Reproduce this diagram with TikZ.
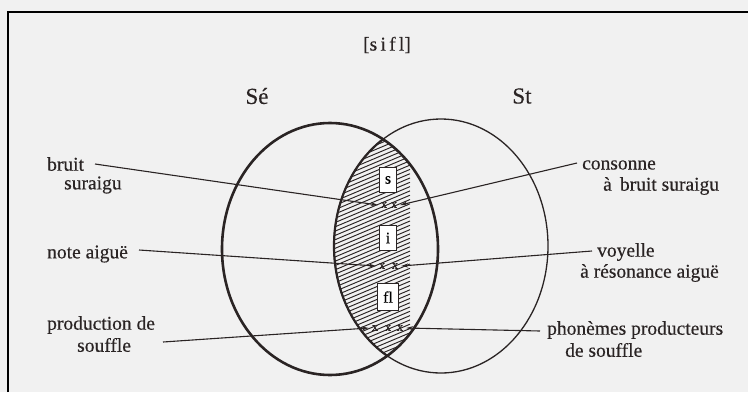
\documentclass[tikz,border=0pt]{standalone}
\usepackage{fontspec}
\setmainfont[FakeBold=0.35]{Liberation Serif}
\usetikzlibrary{arrows.meta}
\definecolor{ink}{HTML}{2A2424}
\definecolor{bg}{HTML}{F1F1F1}
\tikzset{
  lbl/.style={inner sep=0pt, text=ink, font=\fontsize{19.5}{22}\selectfont},
  big/.style={inner sep=0pt, text=ink, font=\fontsize{23}{26}\selectfont},
  conn/.style={draw=ink, line width=1.1pt},
  arr/.style={conn, -{Stealth[length=7pt,width=4pt]}},
  pbox/.style={draw=ink, line width=0.8pt, fill=white, inner sep=1.5pt, minimum width=17pt, minimum height=25pt, font=\fontsize{16}{18}\selectfont},
  xm/.style={inner sep=0pt, font=\fontsize{12}{12}\selectfont, text=ink}
}
\begin{document}
\begin{tikzpicture}[x=1pt,y=-1pt]
\useasboundingbox (0,0) rectangle (748,392);
\fill[bg] (0,0) rectangle (748,392);
% frame
\draw[black, line width=2pt] (8,392) -- (8,12) -- (748,12);
% lens hatching
\begin{scope}
  \clip (330,249) ellipse [x radius=108pt, y radius=126pt];
  \clip (441,246) ellipse [x radius=107pt, y radius=127pt];
  \foreach \i in {0,...,90} {
    \draw[ink, line width=0.95pt] (320,130+\i*4.3) -- ++(90,-38);
  }
\end{scope}
% circles
\draw[ink, line width=1.3pt] (441,246) ellipse [x radius=107pt, y radius=127pt];
\draw[ink, line width=2.6pt] (330,249) ellipse [x radius=108pt, y radius=126pt];
\begin{scope}
  \clip (330,249) ellipse [x radius=108pt, y radius=126pt];
  \draw[ink, line width=2.2pt] (441,246) ellipse [x radius=107pt, y radius=127pt];
\end{scope}
% titles
\node[lbl] (title) at (387,45) {[s\,i\,f\,l]};
\node[big] (se) at (257,96) {Sé};
\node[big] (st) at (522,96) {St};
% boxes
\node[pbox] (bs) at (388,180) {s};
\node[pbox] (bi) at (388,238) {i};
\node[pbox, minimum width=21pt, minimum height=27pt] (bf) at (388,297) {fl};
% x marks
\node[xm] (x1a) at (384,205) {x};
\node[xm] (x1b) at (394,205) {x};
\node[xm] (x2a) at (382,266) {x};
\node[xm] (x2b) at (395,266) {x};
\node[xm] (x3a) at (375,328) {x};
\node[xm] (x3b) at (388,328) {x};
\node[xm] (x3c) at (400,328) {x};
% left labels
\node[lbl, anchor=west] (bruit) at (47,164) {bruit};
\node[lbl, anchor=west] (suraigu) at (64,185) {suraigu};
\node[lbl, anchor=west] (note) at (47,254) {note aiguë};
\node[lbl, anchor=west] (prod) at (47,325) {production de};
\node[lbl, anchor=west] (souf) at (77,345) {souffle};
% right labels
\node[lbl, anchor=west] (cons) at (582,165) {consonne};
\node[lbl, anchor=west] (abruit) at (603,186) {à\ \,bruit suraigu};
\node[lbl, anchor=west] (voy) at (597,252) {voyelle};
\node[lbl, anchor=west] (ares) at (580,273) {à résonance aiguë};
\node[lbl, anchor=west] (phon) at (547,330) {phonèmes producteurs};
\node[lbl, anchor=west] (desouf) at (565,350) {de souffle};
% connector anchors
\coordinate (l1) at (95,164);
\coordinate (r1) at (577,163);
\coordinate (l2) at (139,250);
\coordinate (r2) at (592,251);
\coordinate (l3) at (163,342);
\coordinate (r3) at (540,331);
% connectors
\draw[arr] (l1) -- ([xshift=-3pt]x1a.west);
\draw[arr] (r1) -- ([xshift=3pt]x1b.east);
\draw[arr] (l2) -- ([xshift=-3pt]x2a.west);
\draw[arr] (r2) -- ([xshift=3pt]x2b.east);
\draw[arr] (l3) -- ([xshift=-3pt]x3a.west);
\draw[arr] (r3) -- ([xshift=3pt]x3c.east);
\end{tikzpicture}
\end{document}
